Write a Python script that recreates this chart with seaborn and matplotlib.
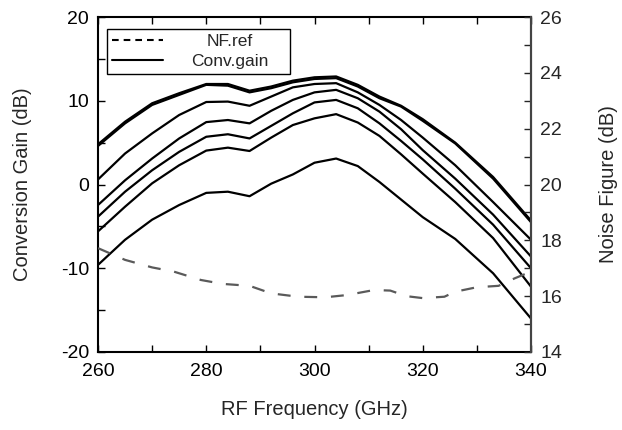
import numpy as np
import pandas as pd
import matplotlib
matplotlib.use("Agg")
import matplotlib.pyplot as plt
import seaborn as sns
from matplotlib.lines import Line2D
from matplotlib.ticker import MultipleLocator

# ---- data ----
freq = [260, 265, 270, 275, 280, 284, 288, 292, 296, 300, 304, 308, 312, 316, 320, 326, 333, 340]
gain_1 = [4.8, 7.5, 9.7, 10.9, 12.0, 12.0, 11.2, 11.7, 12.4, 12.8, 12.9, 11.9, 10.5, 9.4, 7.8, 5.0, 0.9, -4.3]
gain_2 = [4.6, 7.3, 9.5, 10.7, 11.9, 11.8, 11.0, 11.5, 12.2, 12.6, 12.7, 11.7, 10.3, 9.3, 7.6, 4.9, 0.7, -4.5]
gain_3 = [0.6, 3.7, 6.1, 8.3, 9.85, 9.9, 9.4, 10.5, 11.6, 12.0, 12.1, 11.0, 9.5, 7.7, 5.6, 2.3, -2.1, -6.6]
gain_4 = [-2.45, 0.5, 3.1, 5.5, 7.45, 7.7, 7.3, 8.8, 10.1, 11.0, 11.3, 10.3, 8.7, 6.6, 4.1, 0.7, -3.6, -8.6]
gain_5 = [-3.84, -0.86, 1.7, 3.9, 5.7, 6.0, 5.5, 7.0, 8.5, 9.8, 10.1, 9.1, 7.3, 5.2, 3.0, -0.5, -4.8, -10.0]
gain_6 = [-5.6, -2.65, 0.14, 2.3, 4.05, 4.4, 4.0, 5.6, 7.1, 7.9, 8.4, 7.4, 5.8, 3.6, 1.3, -2.1, -6.4, -12.2]
gain_7 = [-9.6, -6.6, -4.2, -2.45, -1.0, -0.86, -1.4, 0.1, 1.2, 2.6, 3.1, 2.2, 0.3, -1.8, -3.9, -6.5, -10.6, -16.0]

nf_freq = [260, 265, 270, 274, 279, 283, 288, 292, 297, 302, 306, 311, 314, 317, 320, 324, 326, 330, 334, 337, 340]
nf_ref = [17.72, 17.3, 17.03, 16.88, 16.58, 16.44, 16.37, 16.1, 15.98, 15.96, 16.04, 16.22, 16.2, 16.0,
          15.93, 15.98, 16.16, 16.32, 16.37, 16.64, 16.88]

legend_labels = ["NF.ref", "Conv.gain"]
x_label = "RF Frequency (GHz)"
y_label_left = "Conversion Gain (dB)"
y_label_right = "Noise Figure (dB)"

# ---- long-form table ----
curves = [gain_1, gain_2, gain_3, gain_4, gain_5, gain_6, gain_7]
df = pd.DataFrame({
    "freq": np.tile(freq, len(curves)),
    "gain": np.concatenate(curves),
    "bias": np.repeat(np.arange(len(curves)), len(freq)),
})
df_nf = pd.DataFrame({"freq": nf_freq, "nf": nf_ref})

sns.set_style("ticks")
plt.rcParams["font.family"] = ["Liberation Sans", "DejaVu Sans"]
plt.rcParams["axes.unicode_minus"] = False

fig = plt.figure(figsize=(6.22, 4.30), dpi=100)
ax = fig.add_axes([98 / 622, 1 - 352 / 430, 433 / 622, 335 / 430])

sns.lineplot(data=df, x="freq", y="gain", hue="bias", palette=["black"] * len(curves),
             linewidth=1.6, legend=False, ax=ax, estimator=None)

ax2 = ax.twinx()
sns.lineplot(data=df_nf, x="freq", y="nf", color="#5a5a5a", linewidth=1.6, ax=ax2,
             estimator=None, legend=False)
for ln in ax2.get_lines():
    ln.set_dashes((5.8, 6.2))

ax.set_xlim(260, 340)
ax.set_ylim(-20, 20)
ax2.set_ylim(14, 26)
ax.xaxis.set_major_locator(MultipleLocator(20))
ax.xaxis.set_minor_locator(MultipleLocator(10))
ax.yaxis.set_major_locator(MultipleLocator(10))
ax.yaxis.set_minor_locator(MultipleLocator(5))
ax2.yaxis.set_major_locator(MultipleLocator(2))
ax2.yaxis.set_minor_locator(MultipleLocator(1))

ax.tick_params(which="both", direction="in", length=5, width=1.0, top=True, right=False,
               labelsize=14, colors="black")
ax.tick_params(axis="y", pad=6.5)
ax.tick_params(axis="x", pad=8)
ax2.tick_params(which="both", direction="in", length=5, width=1.0, labelsize=14, pad=6.5)

ax.set_xlabel(x_label, fontsize=14.5, labelpad=14)
ax.set_ylabel(y_label_left, fontsize=14.5, labelpad=21)
ax2.set_ylabel(y_label_right, fontsize=14.5, labelpad=27)

for s in ax.spines.values():
    s.set_linewidth(1.5)
    s.set_color("black")
for name in ["left", "top", "bottom"]:
    ax2.spines[name].set_visible(False)
ax2.spines["right"].set_linewidth(1.5)
ax2.spines["right"].set_color("#444444")

handles = [Line2D([], [], color="black", lw=1.5, dashes=(3.2, 2.4)),
           Line2D([], [], color="black", lw=1.5)]
leg = ax2.legend(handles, legend_labels, loc="upper left",
                 bbox_to_anchor=(9 / 433, 1 - 12 / 335, 183 / 433, 0.0), mode="expand",
                 borderaxespad=0, fontsize=12.5, frameon=True, fancybox=False,
                 edgecolor="black", framealpha=1, handlelength=2.9, handletextpad=1.65,
                 labelspacing=0.25, borderpad=0.3)
leg.get_frame().set_linewidth(1.0)
leg.get_texts()[0].set_position((15, 0))

fig.savefig("out.png", dpi=100)
